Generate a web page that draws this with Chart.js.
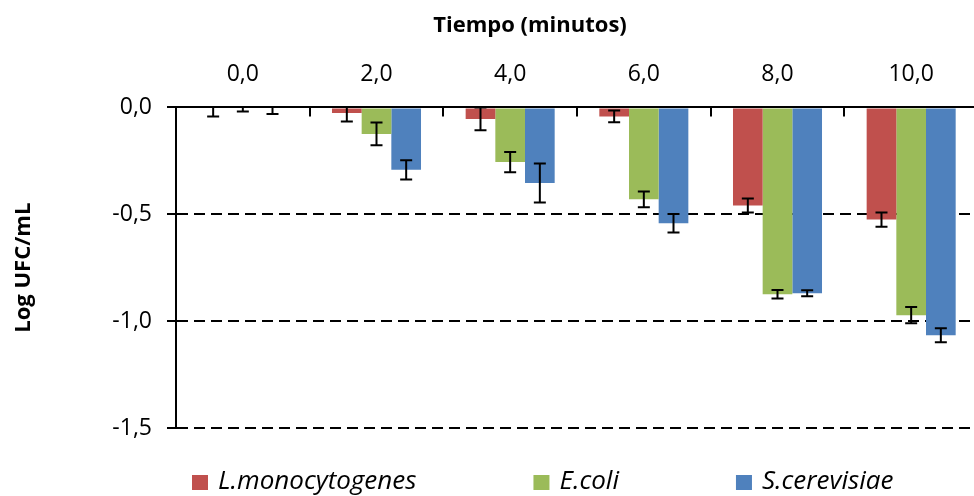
<!DOCTYPE html>
<html>
<head>
<meta charset="utf-8">
<script src="https://cdn.jsdelivr.net/npm/chart.js@4/dist/chart.umd.min.js"></script>
<style>
  html, body { margin: 0; padding: 0; background: #fff; overflow: hidden; }
  #wrap { width: 1060px; height: 496px; }
</style>
</head>
<body>
<div id="wrap"><canvas id="chart"></canvas></div>
<script>
const tiempos = ["0,0", "2,0", "4,0", "6,0", "8,0", "10,0"];
const yTicks = [0, -0.5, -1.0, -1.5];

const series = ["L.monocytogenes", "E.coli", "S.cerevisiae"];
const colores = ["#C0504D", "#9BBB59", "#4F81BD"];

const lMono = [0, -0.026, -0.054, -0.042, -0.459, -0.525];
const eColi = [0, -0.124, -0.256, -0.430, -0.874, -0.972];
const sCere = [0, -0.292, -0.354, -0.542, -0.869, -1.066];

// desviaciones (barras de error)
const lMonoErr = [0.042, 0.040, 0.053, 0.027, 0.033, 0.033];
const eColiErr = [0.019, 0.053, 0.047, 0.037, 0.020, 0.038];
const sCereErr = [0.031, 0.045, 0.091, 0.043, 0.014, 0.033];

const valores = [lMono, eColi, sCere];
const errores = [lMonoErr, eColiErr, sCereErr];

const FONT = "'Open Sans', sans-serif";
const coma = (v) => v.toFixed(1).replace(".", ",").replace("-0,0", "0,0");

const errorBars = {
    id: "errorBars",
    afterDatasetsDraw(chart) {
        const ctx = chart.ctx;
        const area = chart.chartArea;
        const y = chart.scales.y;
        ctx.save();
        ctx.beginPath();
        ctx.rect(area.left, area.top, area.right - area.left, area.bottom - area.top);
        ctx.clip();
        ctx.strokeStyle = "#000";
        ctx.lineWidth = 2;
        chart.data.datasets.forEach((ds, i) => {
            chart.getDatasetMeta(i).data.forEach((bar, j) => {
                const v = ds.data[j];
                const e = ds.errors[j];
                const y1 = y.getPixelForValue(v + e);
                const y2 = y.getPixelForValue(v - e);
                ctx.beginPath();
                ctx.moveTo(bar.x, y1);
                ctx.lineTo(bar.x, y2);
                ctx.moveTo(bar.x - 6, y1);
                ctx.lineTo(bar.x + 6, y1);
                ctx.moveTo(bar.x - 6, y2);
                ctx.lineTo(bar.x + 6, y2);
                ctx.stroke();
            });
        });
        ctx.restore();
    },
};

// leyenda inferior con separacion fija entre elementos
const leyenda = {
    id: "leyenda",
    afterDraw(chart) {
        const ctx = chart.ctx;
        const yc = chart.chartArea.bottom + 54;
        let x = chart.chartArea.left + 16;
        ctx.save();
        ctx.font = "italic 26px " + FONT;
        ctx.textBaseline = "middle";
        chart.data.datasets.forEach((ds) => {
            ctx.fillStyle = ds.backgroundColor;
            ctx.fillRect(x, yc - 7, 16, 15);
            ctx.fillStyle = "#000";
            ctx.fillText(ds.label, x + 26, yc);
            x += 26 + ctx.measureText(ds.label).width + 117;
        });
        ctx.restore();
    },
};

new Chart(document.getElementById("chart"), {
    type: "bar",
    data: {
        labels: tiempos,
        datasets: series.map((s, i) => ({
            label: s,
            data: valores[i],
            errors: errores[i],
            backgroundColor: colores[i],
            borderWidth: 0,
            categoryPercentage: 0.666,
            barPercentage: 1.0,
        })),
    },
    options: {
        animation: false,
        responsive: true,
        maintainAspectRatio: false,
        layout: { padding: { left: 0, right: 0, top: 0, bottom: 68 } },
        plugins: {
            legend: { display: false },
            tooltip: { enabled: false },
            title: {
                display: true,
                text: "Tiempo (minutos)",
                color: "#000",
                font: { family: FONT, size: 22, weight: "bold" },
                padding: { top: 13, bottom: 0 },
            },
        },
        scales: {
            x: {
                position: "top",
                grid: {
                    drawOnChartArea: false,
                    color: "#000",
                    lineWidth: 2,
                    tickLength: -9,
                },
                border: { color: "#000", width: 2 },
                ticks: {
                    color: "#000",
                    font: { family: FONT, size: 23 },
                    padding: 28,
                    maxRotation: 0,
                },
                afterFit(scale) {
                    scale.height = 68;
                },
            },
            y: {
                min: -1.5,
                max: 0,
                afterBuildTicks(scale) {
                    scale.ticks = yTicks.map((v) => ({ value: v }));
                },
                grid: {
                    color: "#000",
                    lineWidth: 2,
                    tickBorderDash: [],
                    tickLength: 9,
                },
                border: { color: "#000", width: 2, dash: [11, 6] },
                ticks: {
                    color: "#000",
                    font: { family: FONT, size: 23 },
                    padding: 15,
                    callback: (v) => coma(v),
                },
                title: {
                    display: true,
                    text: "Log UFC/mL",
                    color: "#000",
                    font: { family: FONT, size: 22, weight: "bold" },
                    padding: { top: 11, bottom: 0 },
                },
                afterFit(scale) {
                    scale.width = 176;
                },
            },
            // eje derecho vacio: deja el area de trazado en su ancho
            y2: {
                position: "right",
                display: true,
                grid: { display: false },
                border: { display: false },
                ticks: { display: false },
                afterFit(scale) {
                    scale.width = 82;
                },
            },
        },
    },
    plugins: [errorBars, leyenda],
});
</script>
</body>
</html>
